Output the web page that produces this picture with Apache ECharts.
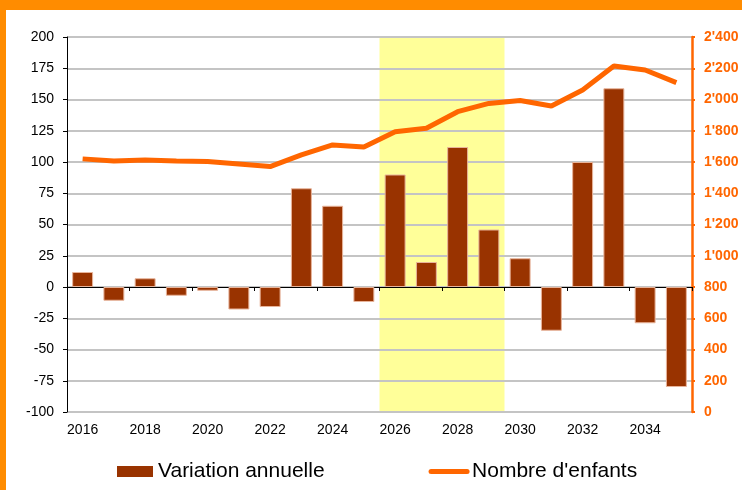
<!DOCTYPE html>
<html>
<head>
<meta charset="utf-8">
<script src="https://cdn.jsdelivr.net/npm/echarts@6/dist/echarts.min.js"></script>
<style>
	html, body { margin: 0; padding: 0; background: #fff; }
	.all { position: relative; width: 742px; height: 490px; }
	.all .echarts { width: 742px; height: 490px; }
	.bandTop { position: absolute; left: 0; top: 0; width: 742px; height: 10px; background: #ff8c00; }
	.bandLeft { position: absolute; left: 0; top: 0; width: 6px; height: 490px; background: #ff8c00; }
</style>
</head>
<body>
<div class="all">
	<div id="chart" class="echarts"></div>
	<div class="bandTop"></div>
	<div class="bandLeft"></div>
</div>
<script>
	// annees
	var years = ['2016', '2017', '2018', '2019', '2020', '2021', '2022', '2023', '2024', '2025',
		'2026', '2027', '2028', '2029', '2030', '2031', '2032', '2033', '2034', '2035'];
	// variation annuelle (axe gauche)
	var variation = [12, -11, 7, -7, -3, -18, -16, 79, 65, -12, 90, 20, 112, 46, 23, -35, 100, 159, -29, -80];
	// nombre d'enfants (axe droit)
	var enfants = [1620, 1606, 1613, 1606, 1603, 1587, 1571, 1645, 1709, 1696,
		1794, 1816, 1922, 1975, 1994, 1958, 2061, 2214, 2189, 2108];
	// periode surlignee en jaune
	var highlight = [2026, 2029];
	// echelles des axes
	var leftAxis = { min: -100, max: 200, interval: 25 };
	var rightAxis = { min: 0, max: 2400, interval: 200 };

	var font = '"Liberation Sans", Arial, sans-serif';
	var myChart = echarts.init(document.getElementById('chart'));

	var option = {
		animation: false,
		backgroundColor: '#ffffff',
		textStyle: { fontFamily: font },
		grid: {
			left: 67,
			right: 50,
			top: 37,
			bottom: 78
		},
		legend: {
			left: 117,
			top: 461,
			padding: 0,
			itemWidth: 36,
			itemHeight: 11,
			itemGap: 104,
			textStyle: { fontSize: 21, color: '#000', fontFamily: font },
			data: [
				{ name: 'Variation annuelle', icon: 'rect', itemStyle: { borderWidth: 0 } },
				{ name: "Nombre d'enfants", itemStyle: { opacity: 0 }, lineStyle: { width: 5, cap: 'round' } }
			]
		},
		xAxis: [
			{
				// axe sur le zero, avec traits
				type: 'category',
				data: years,
				position: 'bottom',
				axisLine: { onZero: true, onZeroAxisIndex: 0, lineStyle: { color: '#000', width: 1 } },
				axisTick: { show: true, length: 4, lineStyle: { color: '#000' } },
				axisLabel: { show: false },
				splitLine: { show: false }
			},
			{
				// etiquettes en bas
				type: 'category',
				data: years,
				position: 'bottom',
				axisLine: { show: false, onZero: false },
				axisTick: { show: false },
				axisLabel: { interval: 1, fontSize: 14, color: '#000', margin: 11, fontFamily: font },
				splitLine: { show: false }
			},
			{
				// axe cache pour la zone jaune
				type: 'value',
				min: Number(years[0]) - 0.5,
				max: Number(years[years.length - 1]) + 0.5,
				show: false
			}
		],
		yAxis: [
			{
				type: 'value',
				min: leftAxis.min,
				max: leftAxis.max,
				interval: leftAxis.interval,
				axisLine: { show: true, lineStyle: { color: '#000', width: 1 } },
				axisTick: { show: true, length: 4, lineStyle: { color: '#000' } },
				axisLabel: { fontSize: 14, color: '#000', margin: 13, fontFamily: font },
				splitLine: { show: true, lineStyle: { color: '#c4c4c4', width: 2 } }
			},
			{
				type: 'value',
				position: 'right',
				min: rightAxis.min,
				max: rightAxis.max,
				interval: rightAxis.interval,
				axisLine: { show: true, lineStyle: { color: '#ff6600', width: 2.5 } },
				axisTick: { show: true, length: 3, lineStyle: { color: '#ff6600', width: 2 } },
				axisLabel: {
					fontSize: 14,
					fontWeight: 'bold',
					color: '#ff6600',
					margin: 12,
					fontFamily: font,
					formatter: function (v) {
						return String(v).replace(/\B(?=(\d{3})+(?!\d))/g, "'");
					}
				},
				splitLine: { show: false }
			}
		],
		series: [
			{
				name: 'zone',
				type: 'line',
				xAxisIndex: 2,
				yAxisIndex: 0,
				data: [],
				z: -1,
				silent: true,
				markArea: {
					z: -1,
					silent: true,
					itemStyle: { color: '#ffff99' },
					data: [[{ xAxis: highlight[0] - 0.5 }, { xAxis: highlight[1] + 0.5 }]]
				}
			},
			{
				name: 'Variation annuelle',
				type: 'bar',
				xAxisIndex: 0,
				yAxisIndex: 0,
				barWidth: '67%',
				itemStyle: { color: '#993300', borderColor: '#e8b49a', borderWidth: 1 },
				data: variation
			},
			{
				name: "Nombre d'enfants",
				type: 'line',
				xAxisIndex: 0,
				yAxisIndex: 1,
				showSymbol: false,
				symbol: 'none',
				lineStyle: { color: '#ff6600', width: 5 },
				itemStyle: { color: '#ff6600' },
				data: enfants
			}
		]
	};

	myChart.setOption(option);
</script>
</body>
</html>
